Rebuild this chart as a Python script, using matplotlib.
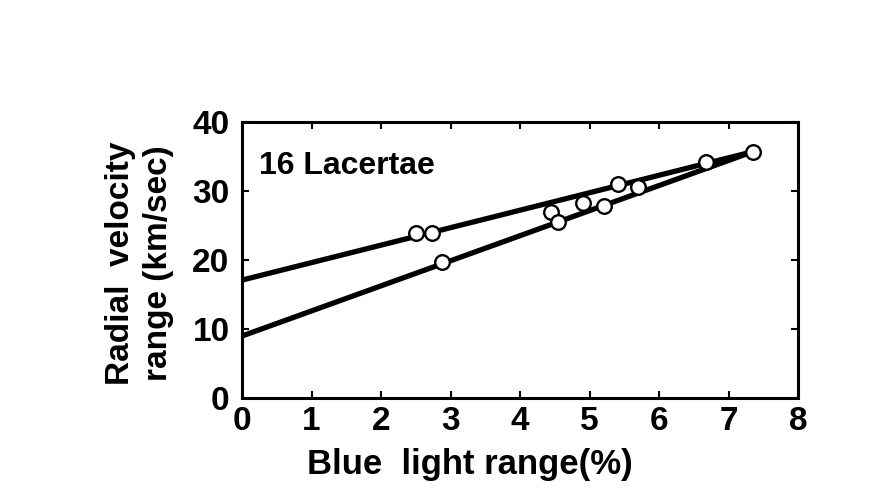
import numpy as np
import matplotlib
matplotlib.use('Agg')
import matplotlib.pyplot as plt

# values
blue_range = [2.50, 2.73, 2.88, 4.45, 4.54, 4.90, 5.20, 5.41, 5.69, 6.68, 7.35]
rv_range = [23.9, 23.9, 19.7, 27.0, 25.5, 28.3, 27.8, 31.0, 30.6, 34.2, 35.7]

line_x = [0.0, 7.35]
upper_y = [17.1, 35.7]
lower_y = [9.0, 35.7]

x_ticks = [0, 1, 2, 3, 4, 5, 6, 7, 8]
y_ticks = [0, 10, 20, 30, 40]

plt.rcParams['font.family'] = ['Liberation Sans', 'DejaVu Sans']
plt.rcParams['font.weight'] = 'bold'
plt.rcParams['axes.labelweight'] = 'bold'

fig = plt.figure(figsize=(8.8, 5.04), dpi=100)
ax = fig.add_axes([0.275, 0.210, 0.632, 0.548])

ax.plot(line_x, upper_y, color='black', lw=3.8, solid_capstyle='butt', zorder=2)
ax.plot(line_x, lower_y, color='black', lw=3.8, solid_capstyle='butt', zorder=2)
ax.plot(blue_range, rv_range, linestyle='none', marker='o', ms=10.5,
        mfc='white', mec='black', mew=1.7, zorder=3)

ax.set_xlim(0, 8)
ax.set_ylim(0, 40)
ax.set_xticks(x_ticks)
ax.set_yticks(y_ticks)
ax.tick_params(direction='in', length=5, width=1.5, labelsize=24,
               top=True, right=True)
ax.tick_params(axis='x', pad=6)
ax.tick_params(axis='y', pad=9)
for s in ax.spines.values():
    s.set_linewidth(2.2)

ax.text(0.03, 0.84, '16 Lacertae', transform=ax.transAxes, fontsize=23,
        ha='left', va='center')

ax.set_xlabel('Blue  light range(%)', fontsize=25)
ax.xaxis.set_label_coords(0.41, -0.18)
ax.set_ylabel('Radial  velocity\nrange (km/sec)', fontsize=24, linespacing=1.3)
ax.yaxis.set_label_coords(-0.185, 0.49)
ax.yaxis.label.set_verticalalignment('center')

fig.savefig('out.png', dpi=100)
